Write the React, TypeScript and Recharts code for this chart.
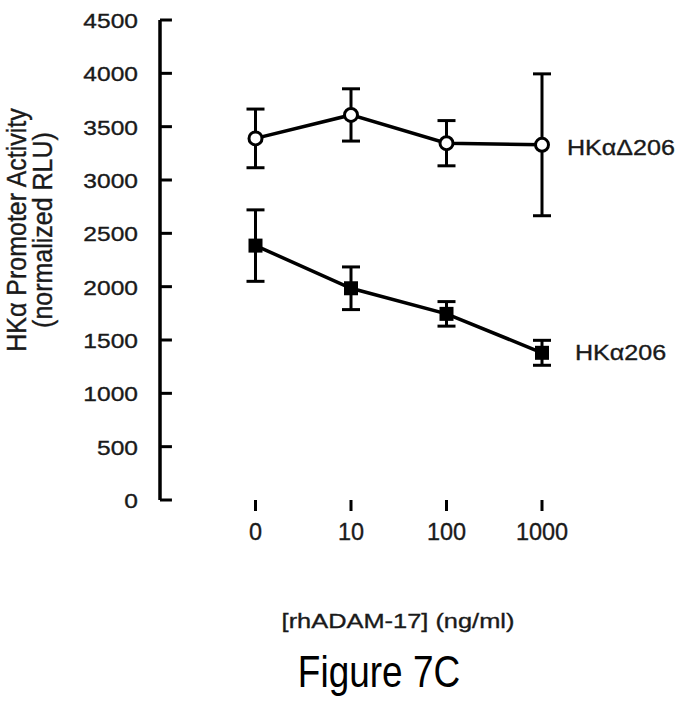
import React from 'react';
import { LineChart, Line, XAxis, YAxis, ErrorBar, ReferenceLine } from 'recharts';

const doses = ['0', '10', '100', '1000'];
const deltaMean = [3390, 3610, 3345, 3330];
const deltaErr = [275, 245, 212, 665];
const wtMean = [2385, 1985, 1745, 1380];
const wtErr = [335, 200, 115, 117];
const yTicks = [0, 500, 1000, 1500, 2000, 2500, 3000, 3500, 4000, 4500];
const seriesNames = ['HKα\u0394206', 'HKα206'];

const data = doses.map((d, i) => ({
  x: i,
  dose: d,
  delta: deltaMean[i],
  deltaErr: deltaErr[i],
  wt: wtMean[i],
  wtErr: wtErr[i],
}));

const FONT = '"Liberation Sans", Arial, sans-serif';
const INK = '#1a1a1a';
// the scan's text is a little heavier than a plain fill gives
const heavy = { stroke: INK, strokeWidth: 0.35 };

const YTick = (props: any) => {
  const { x, y, payload } = props;
  return (
    <text
      transform={`translate(${x},${y + 8}) scale(1.17,1)`}
      textAnchor="end"
      fontSize={21}
      fontFamily={FONT}
      fill={INK}
      {...heavy}
    >
      {payload.value}
    </text>
  );
};

const XTick = (props: any) => {
  const { x, y, payload } = props;
  return (
    <text
      transform={`translate(${x},${y + 29}) scale(1.02,1)`}
      textAnchor="middle"
      fontSize={23}
      fontFamily={FONT}
      fill={INK}
      {...heavy}
    >
      {doses[payload.value]}
    </text>
  );
};

const OpenDot = (p: any) => (
  <circle key={`o${p.index}`} cx={p.cx} cy={p.cy} r={6.5} fill="#fff" stroke="#000" strokeWidth={3} />
);

const SquareDot = (p: any) => (
  <rect key={`s${p.index}`} x={p.cx - 7} y={p.cy - 7} width={14} height={14} fill="#000" />
);

const endLabel = (name: string, dx: number, dy: number) => (p: any) => {
  if (p.index !== doses.length - 1) return <g key={`l${p.index}`} />;
  return (
    <text
      key={`l${p.index}`}
      transform={`translate(${p.x + dx},${p.y + dy}) scale(1.14,1)`}
      fontSize={22}
      fontFamily={FONT}
      fill={INK}
      {...heavy}
    >
      {name}
    </text>
  );
};

export default function App() {
  return (
    <div style={{ position: 'absolute', left: 0, top: 0, width: 685, height: 711, background: '#fff' }}>
      <LineChart
        width={685}
        height={711}
        data={data}
        margin={{ top: 20, right: 143, bottom: 181, left: 0 }}
      >
        <XAxis
          dataKey="x"
          type="number"
          domain={[-1, 3]}
          ticks={[0, 1, 2, 3]}
          interval={0}
          axisLine={false}
          tickLine={{ stroke: '#000', strokeWidth: 3 }}
          tickSize={11}
          tickMargin={0}
          height={30}
          tick={<XTick />}
        />
        <YAxis
          type="number"
          domain={[0, 4500]}
          ticks={yTicks}
          interval={0}
          width={160}
          axisLine={{ stroke: '#000', strokeWidth: 3.5 }}
          tickLine={false}
          tickSize={0}
          tickMargin={22}
          tick={<YTick />}
        />
        {yTicks.map((v) => (
          <ReferenceLine
            key={`yt${v}`}
            segment={[{ x: -1, y: v }, { x: -0.875, y: v }]}
            stroke="#000"
            strokeWidth={3}
          />
        ))}
        <ReferenceLine
          segment={[{ x: -0.03, y: 0 }, { x: 3.015, y: 0 }]}
          stroke="#000"
          strokeWidth={3}
        />
        <Line
          dataKey="delta"
          stroke="#000"
          strokeWidth={3.5}
          isAnimationActive={false}
          dot={OpenDot}
          activeDot={false}
          label={endLabel(seriesNames[0], 25, 10)}
        >
          <ErrorBar dataKey="deltaErr" direction="y" width={9} stroke="#000" strokeWidth={3} isAnimationActive={false} />
        </Line>
        <Line
          dataKey="wt"
          stroke="#000"
          strokeWidth={3.5}
          isAnimationActive={false}
          dot={SquareDot}
          activeDot={false}
          label={endLabel(seriesNames[1], 33, 7)}
        >
          <ErrorBar dataKey="wtErr" direction="y" width={9} stroke="#000" strokeWidth={3} isAnimationActive={false} />
        </Line>
      </LineChart>
      <svg
        width={685}
        height={711}
        style={{ position: 'absolute', left: 0, top: 0, pointerEvents: 'none' }}
      >
        <text
          transform="translate(26,230) rotate(-90) scale(1,1.1)"
          textAnchor="middle"
          fontSize={25}
          fontFamily={FONT}
          fill={INK}
          {...heavy}
        >
          HKα Promoter Activity
        </text>
        <text
          transform="translate(52,230) rotate(-90) scale(1,1.1)"
          textAnchor="middle"
          fontSize={25}
          fontFamily={FONT}
          fill={INK}
          {...heavy}
        >
          (normalized RLU)
        </text>
        <text
          transform="translate(398,628) scale(1.21,1)"
          textAnchor="middle"
          fontSize={21}
          fontFamily={FONT}
          fill={INK}
          {...heavy}
        >
          [rhADAM-17] (ng/ml)
        </text>
        <text
          transform="translate(379,687) scale(0.84,1)"
          textAnchor="middle"
          fontSize={44}
          fontFamily={FONT}
          fill="#000"
        >
          Figure 7C
        </text>
      </svg>
    </div>
  );
}
